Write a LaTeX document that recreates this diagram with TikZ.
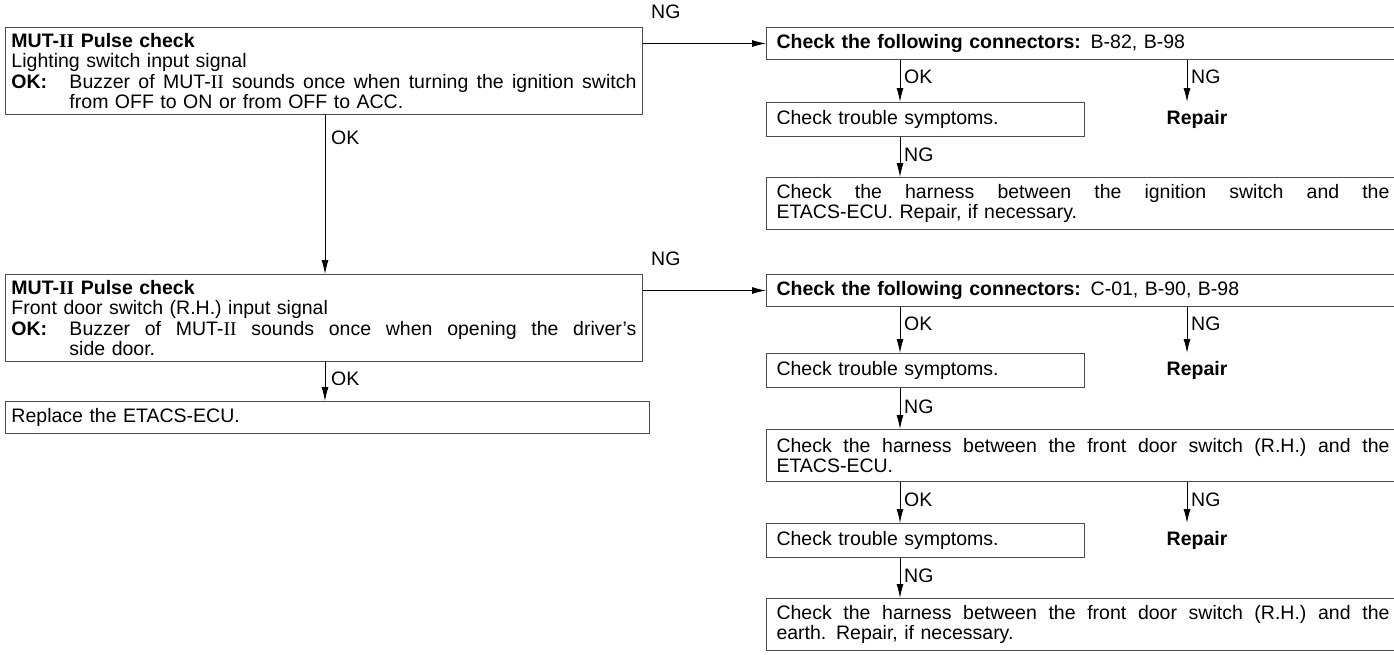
\documentclass[tikz,border=0pt]{standalone}
\usepackage{fontspec}
\setmainfont{Liberation Sans}
\newfontfamily\romanfam{Liberation Serif}
\usetikzlibrary{arrows.meta}
\newcommand\RomII{{\romanfam II}}
\newcommand\fz{\fontsize{19.5}{20.5}\selectfont}
\newcommand\jline[2]{\hbox to #1{\spaceskip=0.28em plus 1fil minus 0.15em\relax #2}}
\tikzset{
  box/.style={draw=black!70, line width=1pt, anchor=north west, inner xsep=6pt, inner ysep=0pt, align=left, font=\fz},
  rbox/.style={box, inner xsep=10pt},
  arr/.style={draw=black, line width=0.9pt, -{Latex[length=14pt,width=7pt]}},
  lbl/.style={font=\fz, inner sep=0pt},
  rep/.style={font=\fz\bfseries, inner sep=0pt},
}
\begin{document}
\begin{tikzpicture}[x=1pt,y=-1pt]
\path[use as bounding box] (0,0) rectangle (1394,654);
\clip (0,0) rectangle (1394,654);
% left column
\node[box, minimum width=637pt, minimum height=87pt, text width=625pt] (b1) at (5,27)
 {\textbf{MUT-\RomII\ Pulse check}\\
  Lighting switch input signal\\
  \makebox[58pt][l]{\textbf{OK:}}\jline{567pt}{Buzzer of MUT-\RomII\ sounds once when turning the ignition switch}\\
  \hspace*{58pt}from OFF to ON or from OFF to ACC.};
\node[box, minimum width=637pt, minimum height=87pt, text width=625pt] (b2) at (5,274)
 {\textbf{MUT-\RomII\ Pulse check}\\
  Front door switch (R.H.) input signal\\
  \makebox[58pt][l]{\textbf{OK:}}\jline{567pt}{Buzzer of MUT-\RomII\ sounds once when opening the driver's}\\
  \hspace*{58pt}side door.};
\node[box, minimum width=644pt, minimum height=32pt, text width=632pt] (rp) at (5,401) {Replace the ETACS-ECU.};
% right column, group 1
\node[rbox, minimum width=700pt, minimum height=32pt, text width=680pt] (A) at (766,27)
 {\textbf{Check the following connectors:} B-82, B-98};
\node[rbox, minimum width=318pt, minimum height=34pt, text width=298pt] (t1) at (766,102) {Check trouble symptoms.};
\node[rep] (r1) at (1197,119) {Repair};
\node[rbox, minimum width=700pt, minimum height=52pt, text width=680pt] (h1) at (766,177)
 {\jline{613pt}{Check the harness between the ignition switch and the}\\ ETACS-ECU. Repair, if necessary.};
% right column, group 2
\node[rbox, minimum width=700pt, minimum height=32pt, text width=680pt] (C) at (766,274)
 {\textbf{Check the following connectors:} C-01, B-90, B-98};
\node[rbox, minimum width=318pt, minimum height=34pt, text width=298pt] (t2) at (766,353) {Check trouble symptoms.};
\node[rep] (r2) at (1197,370) {Repair};
\node[rbox, minimum width=700pt, minimum height=52pt, text width=680pt] (h2) at (766,429)
 {\jline{613pt}{Check the harness between the front door switch (R.H.) and the}\\ ETACS-ECU.};
\node[rbox, minimum width=318pt, minimum height=34pt, text width=298pt] (t3) at (766,523) {Check trouble symptoms.};
\node[rep] (r3) at (1197,540) {Repair};
\node[rbox, minimum width=700pt, minimum height=52pt, text width=680pt] (h3) at (766,598)
 {\jline{613pt}{Check the harness between the front door switch (R.H.) and the}\\ earth. Repair, if necessary.};
% connectors
\coordinate (xl) at (325,0);
\coordinate (xa) at (900,0);
\coordinate (xr) at (1187,0);
\draw[arr] (A.west -| b1.east) -- (A.west);
\draw[arr] (C.west -| b2.east) -- (C.west);
\draw[arr] (b1.south -| xl) -- (b2.north -| xl);
\draw[arr] (b2.south -| xl) -- (rp.north -| xl);
\draw[arr] (A.south -| xa) -- (t1.north -| xa);
\draw[arr] (A.south -| xr) -- (t1.north -| xr);
\draw[arr] (t1.south -| xa) -- (h1.north -| xa);
\draw[arr] (C.south -| xa) -- (t2.north -| xa);
\draw[arr] (C.south -| xr) -- (t2.north -| xr);
\draw[arr] (t2.south -| xa) -- (h2.north -| xa);
\draw[arr] (h2.south -| xa) -- (t3.north -| xa);
\draw[arr] (h2.south -| xr) -- (t3.north -| xr);
\draw[arr] (t3.south -| xa) -- (h3.north -| xa);
% labels
\node[lbl, anchor=west] (n1) at (651,12) {NG};
\node[lbl, anchor=west] (n2) at (651,259) {NG};
\node[lbl, anchor=west] (o1) at (331,138) {OK};
\node[lbl, anchor=west] (o2) at (331,379) {OK};
\node[lbl, anchor=west] (o3) at (904,77) {OK};
\node[lbl, anchor=west] (n3) at (1191,77) {NG};
\node[lbl, anchor=west] (n4) at (904,155) {NG};
\node[lbl, anchor=west] (o4) at (904,324) {OK};
\node[lbl, anchor=west] (n5) at (1191,324) {NG};
\node[lbl, anchor=west] (n6) at (904,407) {NG};
\node[lbl, anchor=west] (o5) at (904,500) {OK};
\node[lbl, anchor=west] (n7) at (1191,500) {NG};
\node[lbl, anchor=west] (n8) at (904,576) {NG};
\end{tikzpicture}
\end{document}
